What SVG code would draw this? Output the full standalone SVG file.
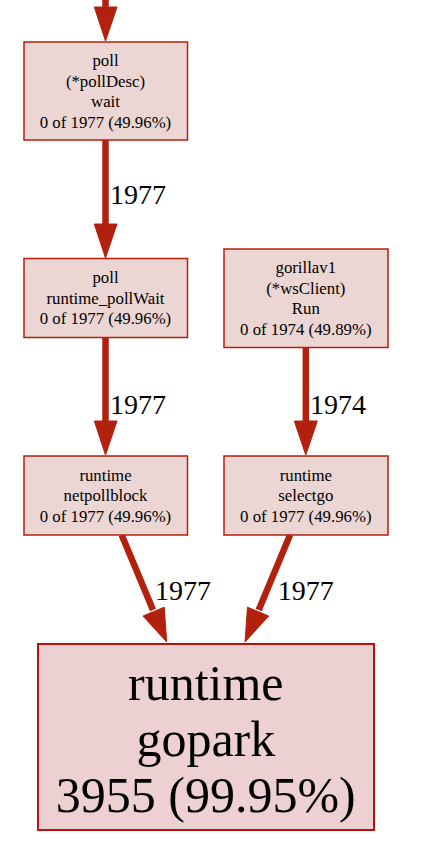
<svg xmlns="http://www.w3.org/2000/svg" width="437" height="863" viewBox="0 0 437 863">
<style>
.bg{fill:#ffffff}
.n{fill:#ecd6d3;stroke:#b2200e;stroke-width:1.5}
.nb{fill:#ecd0d2;stroke:#b8120f;stroke-width:2}
.t{font-family:"Liberation Serif","Times New Roman",serif;font-size:16.8px;fill:#000;text-anchor:middle}
.tb{font-family:"Liberation Serif","Times New Roman",serif;font-size:50px;fill:#000;text-anchor:middle}
.el{font-family:"Liberation Serif","Times New Roman",serif;font-size:28px;fill:#000}
.e{stroke:#b2200e;stroke-width:6.5;fill:none}
.h{fill:#b2200e;stroke:#b2200e;stroke-width:1}
</style>
<rect class="bg" x="0" y="0" width="437" height="863"/>
<g id="edges">
  <g id="e0"><line class="e" x1="105.5" y1="0" x2="105.5" y2="10"/><polygon class="h" points="94.3,7 117,7 105.5,41"/></g>
  <g id="e1"><line class="e" x1="105.5" y1="140" x2="105.5" y2="226"/><polygon class="h" points="94.3,224 117,224 105.5,258"/><text class="el" x="110" y="204.3">1977</text></g>
  <g id="e2"><line class="e" x1="105.5" y1="338" x2="105.5" y2="423"/><polygon class="h" points="94.3,421 117,421 105.5,455"/><text class="el" x="110" y="414">1977</text></g>
  <g id="e3"><line class="e" x1="305.8" y1="348" x2="305.8" y2="423"/><polygon class="h" points="294.3,421 317.3,421 305.8,455"/><text class="el" x="310" y="414">1974</text></g>
  <g id="e4"><line class="e" x1="121.7" y1="535" x2="153" y2="610"/><polygon class="h" points="164.2,607.2 143,616 166.7,642"/><text class="el" x="155" y="600">1977</text></g>
  <g id="e5"><line class="e" x1="290" y1="535" x2="258.7" y2="610"/><polygon class="h" points="268.7,616 247.5,607.2 245,642"/><text class="el" x="277.7" y="600">1977</text></g>
</g>
<g id="node-pollwait">
  <rect class="n" x="24" y="42" width="163.5" height="98"/>
  <text class="t" x="105.5" y="66">poll</text>
  <text class="t" x="105.5" y="86.5">(*pollDesc)</text>
  <text class="t" x="105.5" y="107">wait</text>
  <text class="t" x="105.5" y="127.5">0 of 1977 (49.96%)</text>
</g>
<g id="node-pollwaitrt">
  <rect class="n" x="24" y="258.5" width="163.5" height="79"/>
  <text class="t" x="105.5" y="283.3">poll</text>
  <text class="t" x="105.5" y="303.8">runtime_pollWait</text>
  <text class="t" x="105.5" y="324.3">0 of 1977 (49.96%)</text>
</g>
<g id="node-gorilla">
  <rect class="n" x="224" y="249" width="164" height="98.5"/>
  <text class="t" x="305.8" y="273.3">gorillav1</text>
  <text class="t" x="305.8" y="293.8">(*wsClient)</text>
  <text class="t" x="305.8" y="314.3">Run</text>
  <text class="t" x="305.8" y="334.8">0 of 1974 (49.89%)</text>
</g>
<g id="node-netpollblock">
  <rect class="n" x="24" y="456" width="163.5" height="79"/>
  <text class="t" x="105.5" y="480.5">runtime</text>
  <text class="t" x="105.5" y="501">netpollblock</text>
  <text class="t" x="105.5" y="521.5">0 of 1977 (49.96%)</text>
</g>
<g id="node-selectgo">
  <rect class="n" x="224" y="456" width="164" height="79"/>
  <text class="t" x="305.8" y="480.5">runtime</text>
  <text class="t" x="305.8" y="501">selectgo</text>
  <text class="t" x="305.8" y="521.5">0 of 1977 (49.96%)</text>
</g>
<g id="node-gopark">
  <rect class="nb" x="38" y="644" width="336" height="186"/>
  <text class="tb" x="205.8" y="700">runtime</text>
  <text class="tb" x="205.8" y="755.5">gopark</text>
  <text class="tb" x="205.8" y="811.5">3955 (99.95%)</text>
</g>
</svg>
